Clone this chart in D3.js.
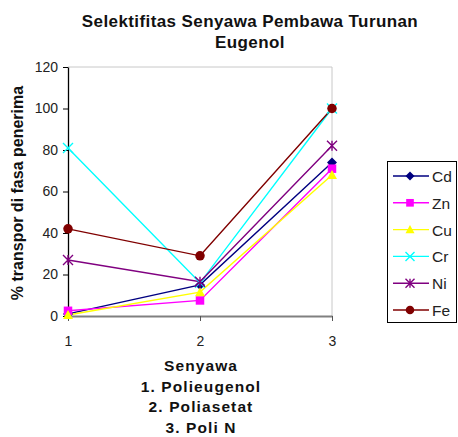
<!DOCTYPE html>
<html><head><meta charset="utf-8">
<script src="https://cdn.jsdelivr.net/npm/d3@7/dist/d3.min.js"></script>
<style>body{margin:0;background:#fff;}svg{font-family:"Liberation Sans",Arial,sans-serif;}</style>
</head><body>
<svg id="c" width="458" height="437"></svg>
<script>
const categories = [1, 2, 3];
const seriesNames = ["Cd", "Zn", "Cu", "Cr", "Ni", "Fe"];
const cd = [1, 15, 74];
const zn = [2.5, 7.5, 71];
const cu = [0.5, 11.5, 68];
const cr = [81, 16, 100];
const ni = [27, 16.5, 82];
const fe = [42, 29, 100];
const yTicks = [0, 20, 40, 60, 80, 100, 120];
const titleLines = ["Selektifitas Senyawa Pembawa Turunan", "Eugenol"];
const xTitleLines = ["Senyawa", "1. Polieugenol", "2. Poliasetat", "3. Poli N"];
const yTitle = "% transpor di fasa penerima";

const seriesData = [cd, zn, cu, cr, ni, fe];
const colors = ["#000080", "#ff00ff", "#ffff00", "#00ffff", "#800080", "#800000"];
const shapes = ["diamond", "square", "triangle", "x", "star", "circle"];

const svg = d3.select("#c");
const x = d3.scaleLinear().domain([1, 3]).range([68, 332]);
const y = d3.scaleLinear().domain([0, 120]).range([316, 67]);

// plot border (top/right)
svg.append("path").attr("d", `M68,67H332V316`).attr("fill", "none").attr("stroke", "#c8c8c8").attr("stroke-width", 1);

// title
svg.append("text").attr("y", 27).attr("text-anchor", "middle")
  .attr("font-size", 17).attr("font-weight", "bold").attr("letter-spacing", 0.4).attr("fill", "#111")
  .selectAll("tspan").data(titleLines).join("tspan")
  .attr("x", 250).attr("dy", (d, i) => i === 0 ? 0 : 21).text(d => d);

// y axis
const yAxis = d3.axisLeft(y).tickValues(yTicks).tickSize(5).tickSizeOuter(0);
const gy = svg.append("g").attr("transform", "translate(68,0)").call(yAxis);
gy.select(".domain").attr("stroke", "#000").attr("stroke-width", 1.3);
gy.selectAll("text").attr("font-size", 14).attr("fill", "#222").attr("font-family", "Liberation Sans, Arial, sans-serif").attr("x", -10);

// x axis
const xAxis = d3.axisBottom(x).tickValues(categories).tickFormat(d3.format("d")).tickSize(5).tickSizeOuter(0);
const gx = svg.append("g").attr("transform", "translate(0,316)").call(xAxis);
gx.select(".domain").attr("stroke", "#808080").attr("stroke-width", 2);
gx.selectAll(".tick line").attr("stroke", "#555");
gx.selectAll("text").attr("font-size", 14).attr("fill", "#222").attr("y", 30).attr("dy", 0).attr("font-family", "Liberation Sans, Arial, sans-serif");

// y title
svg.append("text").attr("transform", "translate(23,193) rotate(-90)").attr("text-anchor", "middle")
  .attr("font-size", 16).attr("font-weight", "bold").attr("fill", "#111").text(yTitle);

// x title
svg.append("text").attr("text-anchor", "middle").attr("font-size", 15.5).attr("font-weight", "bold").attr("fill", "#111")
  .attr("letter-spacing", 1.1).attr("y", 371)
  .selectAll("tspan").data(xTitleLines).join("tspan")
  .attr("x", 201).attr("dy", (d, i) => i === 0 ? 0 : 20.7).text(d => d);

function marker(g, shape, color, size) {
  const s = size;
  if (shape === "diamond") g.append("path").attr("d", `M0,${-s}L${s},0L0,${s}L${-s},0Z`).attr("fill", color);
  else if (shape === "square") g.append("rect").attr("x", -s * 0.85).attr("y", -s * 0.85).attr("width", s * 1.7).attr("height", s * 1.7).attr("fill", color);
  else if (shape === "triangle") g.append("path").attr("d", `M0,${-s}L${s},${s * 0.8}L${-s},${s * 0.8}Z`).attr("fill", color);
  else if (shape === "x") g.append("path").attr("d", `M${-s},${-s}L${s},${s}M${-s},${s}L${s},${-s}`).attr("stroke", color).attr("stroke-width", 1.4);
  else if (shape === "star") g.append("path").attr("d", `M${-s},${-s}L${s},${s}M${-s},${s}L${s},${-s}M0,${-s}V${s}`).attr("stroke", color).attr("stroke-width", 1.4);
  else if (shape === "circle") g.append("circle").attr("r", s * 0.95).attr("fill", color);
}

const line = d3.line().x((d, i) => x(categories[i])).y(d => y(d));
seriesData.forEach((vals, k) => {
  svg.append("path").attr("d", line(vals)).attr("fill", "none").attr("stroke", colors[k]).attr("stroke-width", 1.4);
});
seriesData.forEach((vals, k) => {
  vals.forEach((v, i) => {
    const g = svg.append("g").attr("transform", `translate(${x(categories[i])},${y(v)})`);
    marker(g, shapes[k], colors[k], 5);
  });
});

// legend
const lg = svg.append("g");
lg.append("rect").attr("x", 387.5).attr("y", 161.5).attr("width", 69).attr("height", 161).attr("fill", "#fff").attr("stroke", "#000").attr("stroke-width", 1);
seriesNames.forEach((n, k) => {
  const yy = 176 + k * 26.8;
  lg.append("line").attr("x1", 393).attr("x2", 429).attr("y1", yy).attr("y2", yy).attr("stroke", colors[k]).attr("stroke-width", 1.4);
  const g = lg.append("g").attr("transform", `translate(410,${yy})`);
  marker(g, shapes[k], colors[k], 4.5);
  lg.append("text").attr("x", 432).attr("y", yy + 6).attr("font-size", 15.5).attr("fill", "#222").text(n);
});
</script>
</body></html>
